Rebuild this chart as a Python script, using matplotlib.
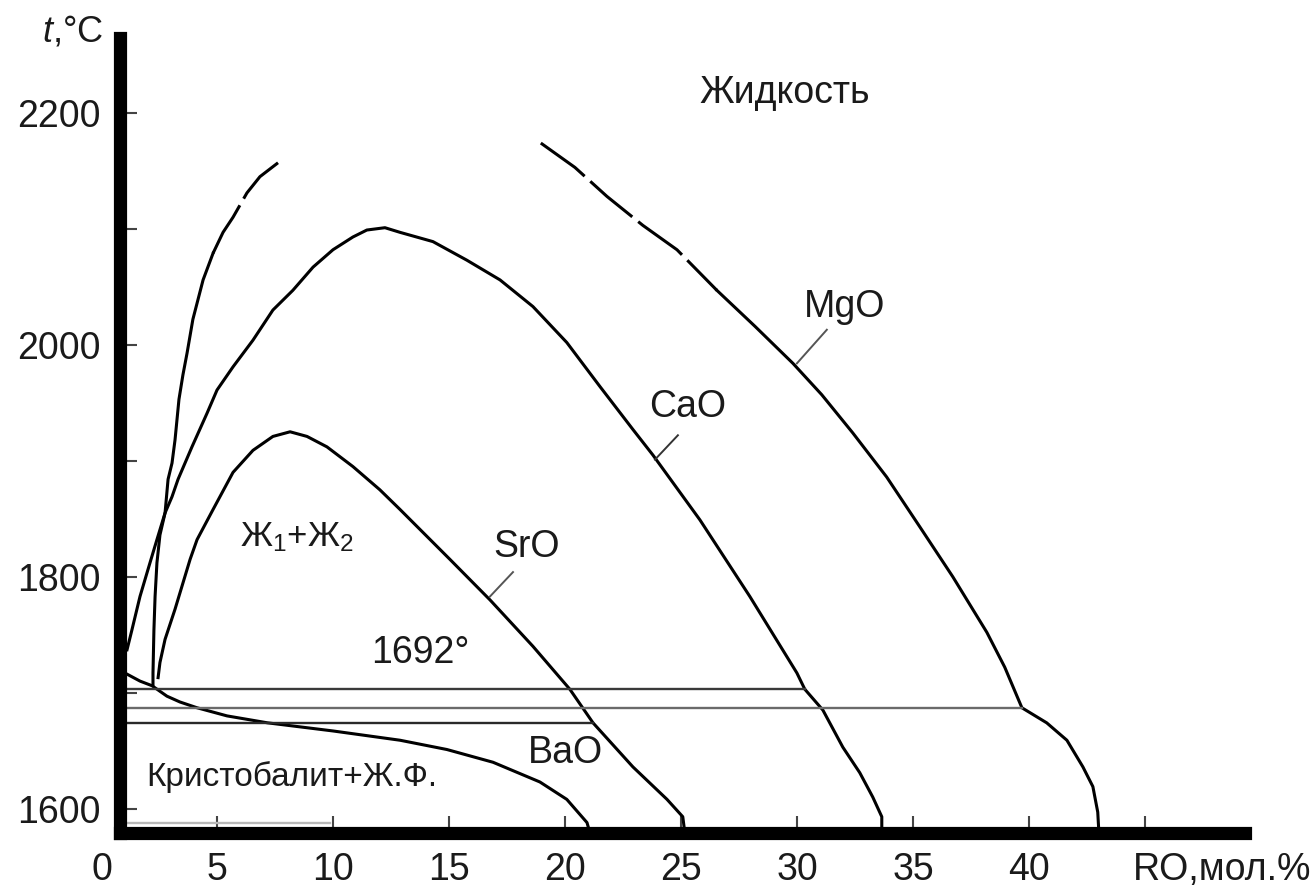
import matplotlib
matplotlib.use('Agg')
import matplotlib.pyplot as plt

plt.rcParams['font.family'] = ['Liberation Sans', 'DejaVu Sans']
plt.rcParams['mathtext.fontset'] = 'custom'
plt.rcParams['mathtext.rm'] = 'Liberation Sans'
plt.rcParams['mathtext.it'] = 'Liberation Sans:italic'

# RO, мол.% и температура
mgo_left_x = [2.22, 2.22, 2.26, 2.31, 2.39, 2.52, 2.74, 2.87, 3.04, 3.17, 3.34, 3.51, 3.69, 3.94, 4.38, 4.81]
mgo_left_t = [1707, 1717, 1754, 1783, 1812, 1836, 1855, 1884, 1898, 1918, 1953, 1974, 1993, 2022, 2056, 2079]
mgo_left_dash_x = [4.81, 5.24, 5.67, 6.27, 6.83, 7.61]
mgo_left_dash_t = [2079, 2097, 2110, 2131, 2145, 2157]

mgo_right_dash_x = [18.94, 20.41, 21.79, 23.34, 24.81, 26.53]
mgo_right_dash_t = [2174, 2153, 2128, 2103, 2082, 2047]
mgo_right_x = [26.53, 28.17, 29.81, 31.05, 32.39, 33.85, 35.28, 36.70, 38.17, 38.94, 39.68,
               40.75, 41.62, 42.31, 42.74, 42.95, 43.00]
mgo_right_t = [2047, 2016, 1984, 1957, 1924, 1886, 1843, 1800, 1752, 1722, 1687,
               1674, 1659, 1636, 1619, 1597, 1579]

cao_x = [1.10, 1.31, 1.66, 2.09, 2.39, 2.74, 3.04, 3.30, 3.90, 4.55, 4.98, 5.67, 6.53, 7.39, 8.25,
         9.12, 9.98, 10.84, 11.44, 12.22, 12.87, 14.29, 15.75, 17.18, 18.60, 20.06, 21.49, 22.91,
         23.77, 25.80, 27.95, 29.98, 30.32, 31.10, 31.96, 32.69, 33.25, 33.64, 33.64]
cao_t = [1737, 1754, 1783, 1812, 1832, 1855, 1869, 1884, 1912, 1941, 1961, 1981, 2004, 2030, 2047,
         2067, 2082, 2093, 2099, 2101, 2097, 2089, 2073, 2056, 2033, 2002, 1964, 1927,
         1905, 1849, 1783, 1717, 1703, 1685, 1653, 1631, 1610, 1593, 1579]

sro_x = [2.44, 2.52, 2.74, 3.17, 3.82, 4.12, 4.81, 5.67, 6.53, 7.39, 8.13, 8.86, 9.72, 10.84,
         12.00, 12.87, 15.02, 16.75, 18.60, 20.19, 21.19, 22.91, 24.38, 25.06, 25.15]
sro_t = [1713, 1726, 1746, 1772, 1815, 1832, 1858, 1890, 1909, 1921, 1925, 1921, 1912, 1895,
         1875, 1858, 1815, 1780, 1740, 1703, 1674, 1636, 1608, 1593, 1579]

bao_x = [1.10, 1.66, 2.18, 2.82, 3.38, 4.12, 5.41, 7.16, 9.98, 12.87, 14.89, 16.88, 18.90, 20.06, 20.93, 21.06]
bao_t = [1716, 1710, 1706, 1697, 1692, 1687, 1680, 1674, 1667, 1659, 1651, 1640, 1623, 1608, 1588, 1579]

# горизонтали (монотектики): температура и конец линии
tie_t = [1703, 1687, 1674, 1588]
tie_end = [30.32, 39.68, 21.19, 9.85]
tie_col = ['#3a3a3a', '#6a6a6a', '#2a2a2a', '#b8b8b8']

x_ticks = [0, 5, 10, 15, 20, 25, 30, 35, 40, 45]
x_labels = ['0', '5', '10', '15', '20', '25', '30', '35', '40', '']
y_ticks = [1600, 1700, 1800, 1900, 2000, 2100, 2200]
y_labels = ['1600', '', '1800', '', '2000', '', '2200']

x0, x1 = -1.0, 49.6
y0, y1 = 1579, 2271.5
x_axis = 0.8

fig = plt.figure(figsize=(13.13, 8.91), dpi=100)
ax = fig.add_axes([78.3 / 1313, 58 / 891, 1173.7 / 1313, 803 / 891])
ax.set_xlim(x0, x1)
ax.set_ylim(y0, y1)

lw = 2.2
dash = (0, (18, 2.5))
ax.plot(mgo_left_x, mgo_left_t, color='black', lw=lw)
ax.plot(mgo_left_dash_x, mgo_left_dash_t, color='black', lw=lw, linestyle=dash)
ax.plot(mgo_right_dash_x, mgo_right_dash_t, color='black', lw=lw, linestyle=dash)
ax.plot(mgo_right_x, mgo_right_t, color='black', lw=lw)
ax.plot(cao_x, cao_t, color='black', lw=lw)
ax.plot(sro_x, sro_t, color='black', lw=lw)
ax.plot(bao_x, bao_t, color='black', lw=lw)

for t, xe, c in zip(tie_t, tie_end, tie_col):
    ax.plot([x_axis, xe], [t, t], color=c, lw=1.7)

# выноски к подписям
ax.plot([23.86, 24.85], [1901, 1922], color='#333333', lw=1.4)
ax.plot([29.98, 31.27], [1984, 2013], color='#555555', lw=1.4)
ax.plot([16.75, 17.74], [1783, 1804], color='#555555', lw=1.4)

fs = 27
tc = '#1a1a1a'
ax.text(29.46, 2217, 'Жидкость', fontsize=fs, ha='center', va='center', color=tc)
ax.text(32.05, 2033, 'MgO', fontsize=fs, ha='center', va='center', color=tc)
ax.text(25.28, 1946, 'CaO', fontsize=fs, ha='center', va='center', color=tc)
ax.text(18.34, 1826, 'SrO', fontsize=fs, ha='center', va='center', color=tc)
ax.text(19.98, 1648, 'BaO', fontsize=fs, ha='center', va='center', color=tc)
ax.text(13.73, 1734, '1692°', fontsize=fs, ha='center', va='center', color=tc)
ax.text(8.43, 1834, 'Ж$_1$+Ж$_2$', fontsize=25, ha='center', va='center', color=tc)
ax.text(8.21, 1627, 'Кристобалит+Ж.Ф.', fontsize=24, ha='center', va='center', color=tc)

for s in ['top', 'right']:
    ax.spines[s].set_visible(False)
ax.spines['left'].set_position(('data', x_axis))
ax.spines['left'].set_bounds(y0, 2265)
ax.spines['bottom'].set_bounds(x_axis, 49.3)
for s in ['left', 'bottom']:
    ax.spines[s].set_linewidth(9.5)
    ax.spines[s].set_capstyle('projecting')

ax.set_xticks(x_ticks)
ax.set_xticklabels(x_labels)
ax.set_yticks(y_ticks)
ax.set_yticklabels(y_labels)
ax.tick_params(direction='in', length=12, width=1.5, labelsize=27, pad=14,
               color='#444444', labelcolor=tc)
ax.xaxis.get_major_ticks()[0].tick1line.set_visible(False)

fig.text(1133 / 1313, 1 - 870 / 891, 'RO,мол.%', fontsize=27, ha='left', va='center', color=tc)
fig.text(73 / 1313, 1 - 32 / 891, '$t$,°C', fontsize=26, ha='center', va='center', color=tc)

fig.savefig('out.png', dpi=100)
